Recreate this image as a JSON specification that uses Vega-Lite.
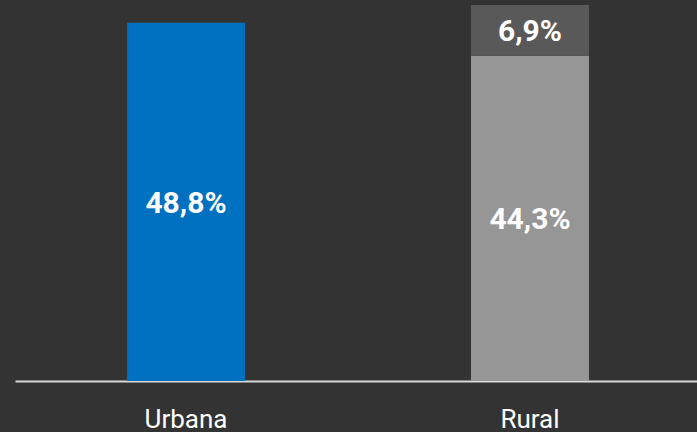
{
  "$schema": "https://vega.github.io/schema/vega-lite/v6.json",
  "width": 686,
  "height": 376,
  "autosize": "none",
  "padding": {"left": 15, "top": 5, "right": 0, "bottom": 51},
  "background": "#333333",
  "data": {
    "values": [
      {"zona": "Urbana", "segmento": "Urbana", "valor": 48.8, "etiqueta": "48,8%", "orden": 1},
      {"zona": "Rural", "segmento": "Rural", "valor": 44.3, "etiqueta": "44,3%", "orden": 1},
      {"zona": "Rural", "segmento": "Rural extra", "valor": 6.9, "etiqueta": "6,9%", "orden": 2}
    ]
  },
  "transform": [
    {"stack": "valor", "groupby": ["zona"], "sort": [{"field": "orden"}], "as": ["v0", "v1"]},
    {"calculate": "(datum.v0 + datum.v1) / 2", "as": "mid"}
  ],
  "encoding": {
    "x": {
      "field": "zona",
      "type": "nominal",
      "sort": ["Urbana", "Rural"],
      "scale": {"paddingInner": 0.657, "paddingOuter": 0.3256},
      "axis": {
        "title": null,
        "labelAngle": 0,
        "labelColor": "#ffffff",
        "labelFont": "Roboto",
        "labelFontSize": 26,
        "labelBaseline": "alphabetic",
        "labelPadding": 46,
        "ticks": false,
        "domainColor": "#d9d9d9",
        "domainWidth": 2,
        "grid": false
      }
    }
  },
  "layer": [
    {
      "mark": {"type": "bar"},
      "encoding": {
        "y": {"field": "v0", "type": "quantitative", "scale": {"domain": [0, 51.2], "nice": false}, "axis": null},
        "y2": {"field": "v1"},
        "color": {
          "field": "segmento",
          "type": "nominal",
          "scale": {"domain": ["Urbana", "Rural", "Rural extra"], "range": ["#0070c0", "#969696", "#595959"]},
          "legend": null
        }
      }
    },
    {
      "mark": {"type": "text", "color": "#ffffff", "font": "Roboto", "fontSize": 30, "fontWeight": "bold", "baseline": "middle", "dy": 2},
      "encoding": {
        "y": {"field": "mid", "type": "quantitative"},
        "text": {"field": "etiqueta"}
      }
    }
  ],
  "config": {"view": {"stroke": null}}
}
